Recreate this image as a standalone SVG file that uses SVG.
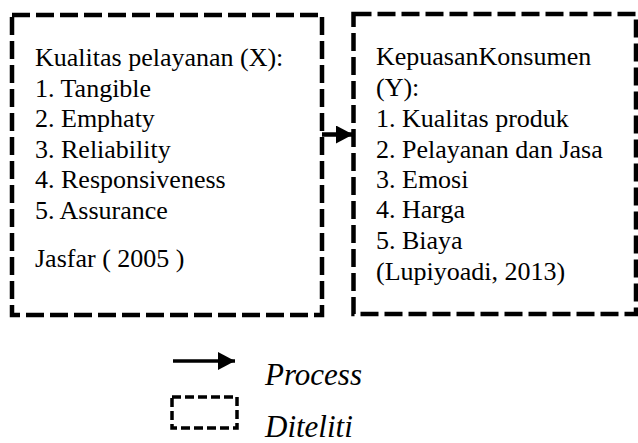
<svg xmlns="http://www.w3.org/2000/svg" width="638" height="443" viewBox="0 0 638 443">
<style>
.box{fill:none;stroke:#000;stroke-width:4.5;stroke-dasharray:18 6;}
.t{font-size:26px;fill:#000;}
.it{font-size:31px;font-style:italic;fill:#000;}
.lg{fill:none;stroke:#000;stroke-width:3.5;stroke-dasharray:9 4;}
</style>
<defs>
<marker id="ah" markerUnits="userSpaceOnUse" markerWidth="18" markerHeight="18" refX="17" refY="9" orient="auto">
<path d="M0,0 L17,9 L0,18 Z" fill="#000"/>
</marker>
</defs>
<g id="node-x" font-family="Liberation Serif, Tinos, Times New Roman, Noto Serif, DejaVu Serif, serif">
<rect class="box" x="12" y="15" width="310" height="300"/>
<text class="t" x="35" y="66">Kualitas pelayanan (X):</text>
<text class="t" x="35" y="96.5">1. Tangible</text>
<text class="t" x="35" y="127">2. Emphaty</text>
<text class="t" x="35" y="157.5">3. Reliability</text>
<text class="t" x="35" y="188">4. Responsiveness</text>
<text class="t" x="35" y="219">5. Assurance</text>
<text class="t" x="35" y="267">Jasfar ( 2005 )</text>
</g>
<g id="node-y" font-family="Liberation Serif, Tinos, Times New Roman, Noto Serif, DejaVu Serif, serif">
<rect class="box" x="353.5" y="14" width="282.5" height="300"/>
<text class="t" x="376" y="65">KepuasanKonsumen</text>
<text class="t" x="376" y="96">(Y):</text>
<text class="t" x="376" y="127">1. Kualitas produk</text>
<text class="t" x="376" y="158">2. Pelayanan dan Jasa</text>
<text class="t" x="376" y="188">3. Emosi</text>
<text class="t" x="376" y="218">4. Harga</text>
<text class="t" x="376" y="249">5. Biaya</text>
<text class="t" x="376" y="280">(Lupiyoadi, 2013)</text>
</g>
<g id="connectors">
<line x1="322" y1="134.5" x2="353" y2="134.5" stroke="#000" stroke-width="4.5" marker-end="url(#ah)"/>
</g>
<g id="legend-process" font-family="Liberation Serif, Tinos, Times New Roman, Noto Serif, DejaVu Serif, serif">
<line x1="173" y1="361" x2="235" y2="361" stroke="#000" stroke-width="3.5" marker-end="url(#ah)"/>
<text class="it" x="265" y="385">Process</text>
</g>
<g id="legend-diteliti" font-family="Liberation Serif, Tinos, Times New Roman, Noto Serif, DejaVu Serif, serif">
<rect class="lg" x="172" y="397" width="65" height="31"/>
<text class="it" x="265" y="437">Diteliti</text>
</g>
</svg>
